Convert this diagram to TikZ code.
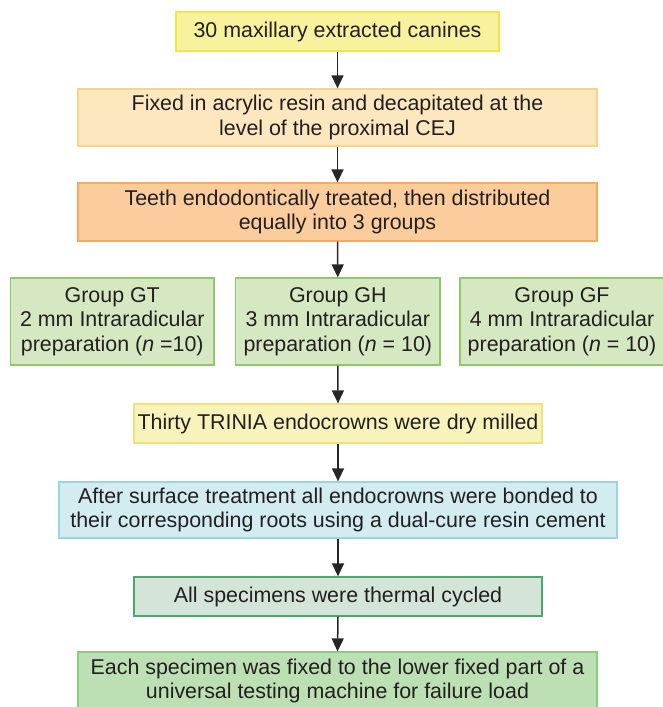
\documentclass[tikz,border=0pt]{standalone}
\usepackage{fontspec}
\setmainfont{Liberation Sans}
\usetikzlibrary{arrows.meta}
\definecolor{txt}{HTML}{231F20}
\definecolor{yfill}{HTML}{F9F29C}\definecolor{ydraw}{HTML}{F1E64C}
\definecolor{pfill}{HTML}{FDE7BE}\definecolor{pdraw}{HTML}{F9D488}
\definecolor{ofill}{HTML}{FBCD9C}\definecolor{odraw}{HTML}{F7AA5C}
\definecolor{gfill}{HTML}{D6E8C2}\definecolor{gdraw}{HTML}{8DC96A}
\definecolor{tfill}{HTML}{F8F3BA}\definecolor{tdraw}{HTML}{F0E27A}
\definecolor{bfill}{HTML}{D3ECEF}\definecolor{bdraw}{HTML}{9CD5DD}
\definecolor{cfill}{HTML}{D5E4D9}\definecolor{cdraw}{HTML}{4BA86C}
\definecolor{ffill}{HTML}{BCDFB3}\definecolor{fdraw}{HTML}{8ACD80}
\tikzset{
  box/.style={rectangle, inner sep=0pt, align=center, text=txt, line width=1.3pt,
    font=\fontsize{21.4}{24.5}\selectfont},
  conn/.style={line width=1.5pt, draw=black!85, -{Triangle[width=12pt,length=13pt]}}
}
\begin{document}
\begin{tikzpicture}[x=1pt,y=-1pt]
\useasboundingbox (0,0) rectangle (662,707);
\node[box, fill=yfill, draw=ydraw, minimum width=323pt, minimum height=39pt] (b1) at (337.5,31.5) {30 maxillary extracted canines};
\node[box, fill=pfill, draw=pdraw, minimum width=519pt, minimum height=57pt] (b2) at (337.5,117.5) {Fixed in acrylic resin and decapitated at the\\level of the proximal CEJ};
\node[box, fill=ofill, draw=odraw, minimum width=519pt, minimum height=58pt] (b3) at (337.5,212) {Teeth endodontically treated, then distributed\\equally into 3 groups};
\node[box, fill=gfill, draw=gdraw, minimum width=203.5pt, minimum height=87pt] (gt) at (112.25,321.5) {Group GT\\2 mm Intraradicular\\preparation (\textit{n} =10)};
\node[box, fill=gfill, draw=gdraw, minimum width=204.4pt, minimum height=87pt] (gh) at (337.8,321.5) {Group GH\\3 mm Intraradicular\\preparation (\textit{n} = 10)};
\node[box, fill=gfill, draw=gdraw, minimum width=204pt, minimum height=87pt] (gf) at (562,321.5) {Group GF\\4 mm Intraradicular\\preparation (\textit{n} = 10)};
\node[box, fill=tfill, draw=tdraw, minimum width=408pt, minimum height=39pt] (b4) at (338,423.5) {Thirty TRINIA endocrowns were dry milled};
\node[box, fill=bfill, draw=bdraw, minimum width=558pt, minimum height=56pt] (b5) at (338,510) {After surface treatment all endocrowns were bonded to\\their corresponding roots using a dual-cure resin cement};
\node[box, fill=cfill, draw=cdraw, minimum width=408pt, minimum height=39pt] (b6) at (338,596.5) {All specimens were thermal cycled};
\node[box, fill=ffill, draw=fdraw, minimum width=519pt, minimum height=58pt] (b7) at (337.5,681) {Each specimen was fixed to the lower fixed part of a\\universal testing machine for failure load};
\draw[conn] (b1.south) -- (b2.north);
\draw[conn] (b2.south) -- (b3.north);
\draw[conn] (b3.south) -- (gh.north);
\draw[conn] (gh.south) -- (b4.north);
\draw[conn] (b4.south) -- (b5.north);
\draw[conn] (b5.south) -- (b6.north);
\draw[conn] (b6.south) -- (b7.north);
\end{tikzpicture}
\end{document}
